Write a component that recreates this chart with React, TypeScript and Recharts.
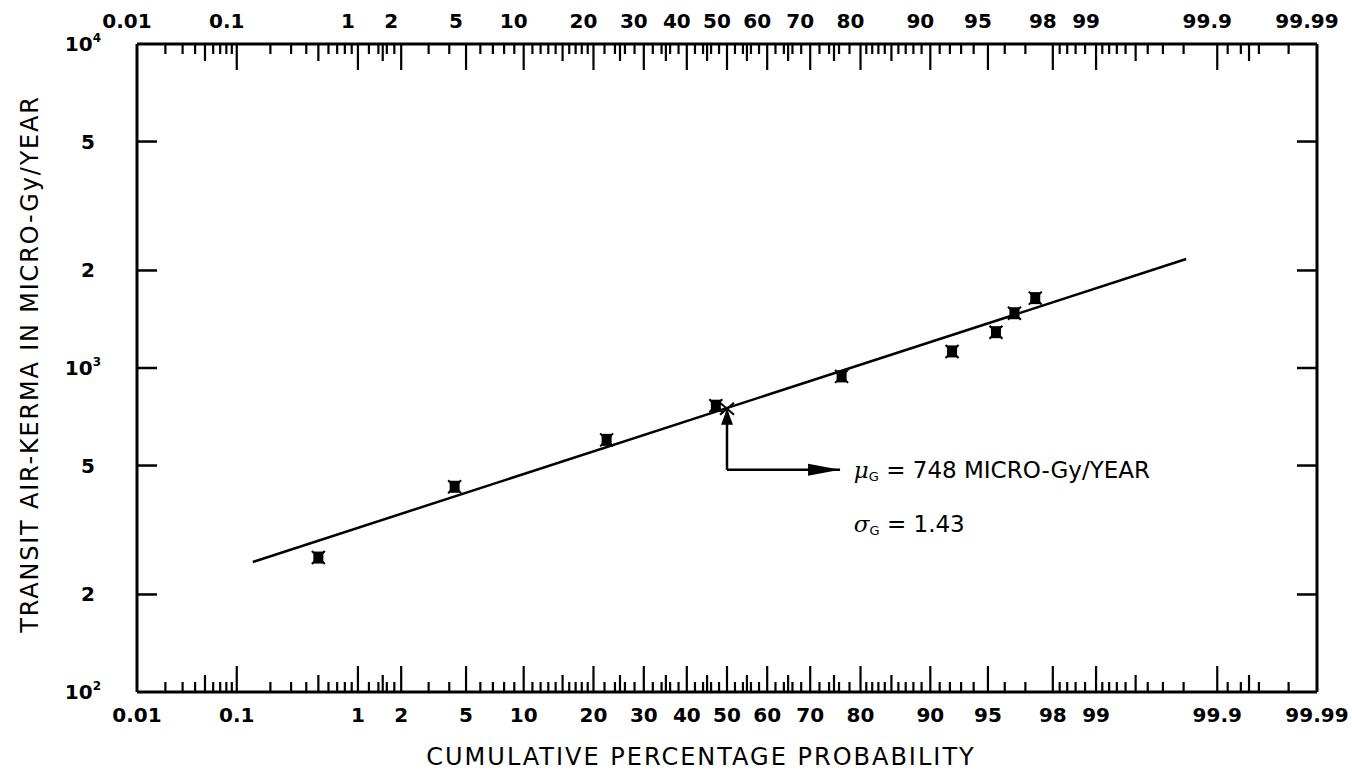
import React from 'react';
import { ComposedChart, XAxis, YAxis, Scatter, Line, ReferenceLine, ReferenceDot } from 'recharts';

// ---------- data ----------
const PROB_MAJOR = [0.01, 0.1, 1, 2, 5, 10, 20, 30, 40, 50, 60, 70, 80, 90, 95, 98, 99, 99.9, 99.99];
const PROB_MAJOR_LABELS = ['0.01', '0.1', '1', '2', '5', '10', '20', '30', '40', '50', '60', '70', '80', '90', '95', '98', '99', '99.9', '99.99'];
const PROB_MEDIUM = [0.05, 0.5, 1.5, 15, 25, 35, 45, 55, 65, 75, 85, 99.5, 99.95];
const PROB_MINOR = [
  0.02, 0.03, 0.04, 0.06, 0.07, 0.08, 0.09,
  0.2, 0.3, 0.4, 0.6, 0.7, 0.8, 0.9,
  1.2, 1.4, 1.6, 1.8,
  3, 4, 6, 7, 8, 9,
  11, 12, 13, 14, 16, 17, 18, 19,
  22, 24, 26, 28, 32, 34, 36, 38, 42, 44, 46, 48,
  52, 54, 56, 58, 62, 64, 66, 68, 72, 74, 76, 78,
  81, 82, 83, 84, 86, 87, 88, 89,
  91, 92, 93, 94, 96, 97,
  98.2, 98.4, 98.6, 98.8,
  99.1, 99.2, 99.3, 99.4, 99.6, 99.7, 99.8,
  99.92, 99.94, 99.96, 99.98,
];

const KERMA_TICKS = [100, 200, 500, 1000, 2000, 5000, 10000];
const KERMA_BASE = ['10', '2', '5', '10', '2', '5', '10'];
const KERMA_EXP = ['2', '', '', '3', '', '', '4'];

const DATA_PROB = [0.5, 4.3, 22.4, 47.2, 76.5, 92.2, 95.5, 96.5, 97.4];
const DATA_KERMA = [260, 430, 600, 765, 942, 1125, 1290, 1476, 1643];

const FIT_PROB = [0.14, 99.81];
const FIT_KERMA = [252, 2170];

const MEAN_PROB = 50;
const MEAN_KERMA = 748;
const ARROW_KERMA = 485;
const ARROW_END_PROB = 76.2;
const TEXT_PROB = 78.8;
const SIGMA_KERMA = 330;

// ---------- probability (normal quantile) transform ----------
function probit(pct: number): number {
  const p = pct / 100;
  const a = [-3.969683028665376e1, 2.209460984245205e2, -2.759285104469687e2, 1.38357751867269e2, -3.066479806614716e1, 2.506628277459239];
  const b = [-5.447609879822406e1, 1.615858368580409e2, -1.556989798598866e2, 6.680131188771972e1, -1.328068155288572e1];
  const c = [-7.784894002430293e-3, -3.223964580411365e-1, -2.400758277161838, -2.549732539343734, 4.374664141464968, 2.938163982698783];
  const d = [7.784695709041462e-3, 3.224671290700398e-1, 2.445134137142996, 3.754408661907416];
  const pl = 0.02425;
  if (p < pl) {
    const q = Math.sqrt(-2 * Math.log(p));
    return (((((c[0] * q + c[1]) * q + c[2]) * q + c[3]) * q + c[4]) * q + c[5]) / ((((d[0] * q + d[1]) * q + d[2]) * q + d[3]) * q + 1);
  }
  if (p <= 1 - pl) {
    const q = p - 0.5;
    const r = q * q;
    return ((((((a[0] * r + a[1]) * r + a[2]) * r + a[3]) * r + a[4]) * r + a[5]) * q) / (((((b[0] * r + b[1]) * r + b[2]) * r + b[3]) * r + b[4]) * r + 1);
  }
  const q = Math.sqrt(-2 * Math.log(1 - p));
  return -(((((c[0] * q + c[1]) * q + c[2]) * q + c[3]) * q + c[4]) * q + c[5]) / ((((d[0] * q + d[1]) * q + d[2]) * q + d[3]) * q + 1);
}

const ZMIN = probit(0.01);
const ZMAX = probit(99.99);

const points = DATA_PROB.map((p, i) => ({ z: probit(p), v: DATA_KERMA[i] }));
const fitLine = FIT_PROB.map((p, i) => ({ z: probit(p), v: FIT_KERMA[i] }));

const tickKey = (z: number) => z.toFixed(5);
const TICK_INFO = new Map<string, { kind: string; label: string }>();
PROB_MINOR.forEach((p) => TICK_INFO.set(tickKey(probit(p)), { kind: 'minor', label: '' }));
PROB_MEDIUM.forEach((p) => TICK_INFO.set(tickKey(probit(p)), { kind: 'medium', label: '' }));
PROB_MAJOR.forEach((p, i) => TICK_INFO.set(tickKey(probit(p)), { kind: 'major', label: PROB_MAJOR_LABELS[i] }));
const ALL_TICKS = [...PROB_MAJOR, ...PROB_MEDIUM, ...PROB_MINOR].sort((a, b) => a - b).map(probit);

const TICK_FONT = "'DejaVu Sans', Verdana, sans-serif";
const TEXT_FONT = "'DejaVu Sans', Verdana, sans-serif";
const LEN: Record<string, number> = { major: 26, medium: 17, minor: 10 };

const BottomTick = (props: any) => {
  const { x, y, payload } = props;
  const info = TICK_INFO.get(tickKey(payload.value)) || { kind: 'minor', label: '' };
  const edge = Math.abs(payload.value - ZMIN) < 1e-6 || Math.abs(payload.value - ZMAX) < 1e-6;
  return (
    <g>
      {!edge && <line x1={x} x2={x} y1={y} y2={y - LEN[info.kind]} stroke="#000" strokeWidth={2.2} />}
      {info.label && (
        <text x={x} y={y + 30} textAnchor="middle" fontSize={20} fontWeight="bold" fontFamily={TICK_FONT} fill="#000">
          {info.label}
        </text>
      )}
    </g>
  );
};

const TopTick = (props: any) => {
  const { x, y, payload } = props;
  const info = TICK_INFO.get(tickKey(payload.value)) || { kind: 'minor', label: '' };
  const edge = Math.abs(payload.value - ZMIN) < 1e-6 || Math.abs(payload.value - ZMAX) < 1e-6;
  return (
    <g>
      {!edge && <line x1={x} x2={x} y1={y} y2={y + LEN[info.kind]} stroke="#000" strokeWidth={2.2} />}
      {info.label && (
        <text x={x - 10} y={y - 16} textAnchor="middle" fontSize={20} fontWeight="bold" fontFamily={TICK_FONT} fill="#000">
          {info.label}
        </text>
      )}
    </g>
  );
};

const LeftTick = (props: any) => {
  const { x, y, payload } = props;
  const i = KERMA_TICKS.indexOf(payload.value);
  const inner = i > 0 && i < KERMA_TICKS.length - 1;
  const exp = KERMA_EXP[i];
  return (
    <g>
      {inner && <line x1={x} x2={x + 20} y1={y} y2={y} stroke="#000" strokeWidth={2.5} />}
      {exp ? (
        <text x={x - 36} y={y + 7} textAnchor="end" fontSize={20} fontWeight="bold" fontFamily={TICK_FONT} fill="#000">
          {KERMA_BASE[i]}
          <tspan dy={-9} fontSize={12}>{exp}</tspan>
        </text>
      ) : (
        <text x={x - 42} y={y + 7} textAnchor="end" fontSize={20} fontWeight="bold" fontFamily={TICK_FONT} fill="#000">
          {KERMA_BASE[i]}
        </text>
      )}
    </g>
  );
};

const Marker = (props: any) => {
  const { cx, cy } = props;
  return (
    <g>
      <rect x={cx - 5} y={cy - 6} width={10} height={12} fill="#000" />
      <line x1={cx - 6.5} y1={cy - 6.5} x2={cx + 6.5} y2={cy + 6.5} stroke="#000" strokeWidth={2} />
      <line x1={cx - 6.5} y1={cy + 6.5} x2={cx + 6.5} y2={cy - 6.5} stroke="#000" strokeWidth={2} />
    </g>
  );
};

const RightArrowHead = (props: any) => {
  const { cx, cy } = props;
  return <path d={`M${cx},${cy} L${cx - 32},${cy - 6} L${cx - 32},${cy + 6} Z`} fill="#000" />;
};

const UpArrowHead = (props: any) => {
  const { cx, cy } = props;
  return (
    <g>
      <path d={`M${cx},${cy} L${cx - 6},${cy + 16} L${cx + 6},${cy + 16} Z`} fill="#000" />
      <line x1={cx - 7} y1={cy - 6} x2={cx + 7} y2={cy + 6} stroke="#000" strokeWidth={2} />
      <line x1={cx - 7} y1={cy + 6} x2={cx + 7} y2={cy - 6} stroke="#000" strokeWidth={2} />
    </g>
  );
};

const MuText = (props: any) => {
  const { cx, cy } = props;
  return (
    <text x={cx} y={cy + 8} fontSize={23} fontFamily={TEXT_FONT} fill="#000">
      <tspan fontStyle="italic" fontFamily="'DejaVu Serif', serif">μ</tspan>
      <tspan fontSize={13} dy={3}>G</tspan>
      <tspan dy={-3}> = 748 MICRO-Gy/YEAR</tspan>
    </text>
  );
};

const SigmaText = (props: any) => {
  const { cx, cy } = props;
  return (
    <text x={cx} y={cy + 8} fontSize={23} fontFamily={TEXT_FONT} fill="#000">
      <tspan fontStyle="italic" fontFamily="'DejaVu Serif', serif">σ</tspan>
      <tspan fontSize={13} dy={3}>G</tspan>
      <tspan dy={-3}> = 1.43</tspan>
    </text>
  );
};

const XTitle = (props: any) => {
  const vb = props.viewBox || { x: 137, y: 692, width: 1180, height: 40 };
  return (
    <text x={vb.x + vb.width / 2 - 26} y={vb.y + 73} textAnchor="middle" fontSize={24} letterSpacing={2} fontFamily={TEXT_FONT} fill="#000">
      CUMULATIVE PERCENTAGE PROBABILITY
    </text>
  );
};

const YTitle = (props: any) => {
  const vb = props.viewBox || { x: 57, y: 44, width: 80, height: 648 };
  const cx = vb.x - 27;
  const cy = vb.y + vb.height / 2 - 4;
  return (
    <text x={cx} y={cy} transform={`rotate(-90, ${cx}, ${cy})`} textAnchor="middle" dominantBaseline="central" fontSize={24} letterSpacing={1.8} fontFamily={TEXT_FONT} fill="#000">
      TRANSIT AIR-KERMA IN MICRO-Gy/YEAR
    </text>
  );
};

export default function App() {
  const zMean = probit(MEAN_PROB);
  const zArrowEnd = probit(ARROW_END_PROB);
  const zText = probit(TEXT_PROB);
  const rightTickLen = (ZMAX - ZMIN) * (20 / 1180);
  return (
    <div style={{ position: 'absolute', left: 0, top: 0, background: '#fff' }}>
      <ComposedChart width={1352} height={783} margin={{ top: 10, right: 35, bottom: 51, left: 57 }}>
        <XAxis
          xAxisId="b"
          type="number"
          dataKey="z"
          domain={[ZMIN, ZMAX]}
          allowDataOverflow
          ticks={ALL_TICKS}
          interval={0}
          tick={(p: any) => <BottomTick {...p} />}
          tickSize={0}
          tickMargin={0}
          tickLine={false}
          axisLine={{ stroke: '#000', strokeWidth: 3 }}
          height={40}
          label={(p: any) => <XTitle {...p} />}
        />
        <XAxis
          xAxisId="t"
          orientation="top"
          type="number"
          dataKey="z"
          domain={[ZMIN, ZMAX]}
          allowDataOverflow
          ticks={ALL_TICKS}
          interval={0}
          tick={(p: any) => <TopTick {...p} />}
          tickSize={0}
          tickMargin={0}
          tickLine={false}
          axisLine={{ stroke: '#000', strokeWidth: 3 }}
          height={34}
        />
        <YAxis
          yAxisId="l"
          type="number"
          scale="log"
          domain={[100, 10000]}
          allowDataOverflow
          ticks={KERMA_TICKS}
          interval={0}
          tick={(p: any) => <LeftTick {...p} />}
          tickSize={0}
          tickMargin={0}
          tickLine={false}
          axisLine={{ stroke: '#000', strokeWidth: 3 }}
          width={80}
          label={(p: any) => <YTitle {...p} />}
        />
        <ReferenceLine xAxisId="b" yAxisId="l" x={ZMAX} stroke="#000" strokeWidth={3} ifOverflow="visible" />
        {KERMA_TICKS.slice(1, -1).map((v) => (
          <ReferenceLine
            key={`rt${v}`}
            xAxisId="b"
            yAxisId="l"
            segment={[{ x: ZMAX, y: v }, { x: ZMAX - rightTickLen, y: v }]}
            stroke="#000"
            strokeWidth={2.5}
            ifOverflow="visible"
          />
        ))}
        <Line
          xAxisId="b"
          yAxisId="l"
          data={fitLine}
          dataKey="v"
          type="linear"
          stroke="#000"
          strokeWidth={2.5}
          dot={false}
          activeDot={false}
          isAnimationActive={false}
        />
        <Scatter xAxisId="b" yAxisId="l" data={points} dataKey="v" shape={(p: any) => <Marker {...p} />} isAnimationActive={false} />
        <ReferenceLine
          xAxisId="b"
          yAxisId="l"
          segment={[{ x: zMean, y: MEAN_KERMA }, { x: zMean, y: ARROW_KERMA }]}
          stroke="#000"
          strokeWidth={2.5}
        />
        <ReferenceLine
          xAxisId="b"
          yAxisId="l"
          segment={[{ x: zMean, y: ARROW_KERMA }, { x: zArrowEnd, y: ARROW_KERMA }]}
          stroke="#000"
          strokeWidth={2.5}
        />
        <ReferenceDot xAxisId="b" yAxisId="l" x={zArrowEnd} y={ARROW_KERMA} r={1} shape={(p: any) => <RightArrowHead {...p} />} />
        <ReferenceDot xAxisId="b" yAxisId="l" x={zMean} y={MEAN_KERMA} r={1} shape={(p: any) => <UpArrowHead {...p} />} />
        <ReferenceDot xAxisId="b" yAxisId="l" x={zText} y={ARROW_KERMA} r={1} shape={(p: any) => <MuText {...p} />} />
        <ReferenceDot xAxisId="b" yAxisId="l" x={zText} y={SIGMA_KERMA} r={1} shape={(p: any) => <SigmaText {...p} />} />
      </ComposedChart>
    </div>
  );
}
